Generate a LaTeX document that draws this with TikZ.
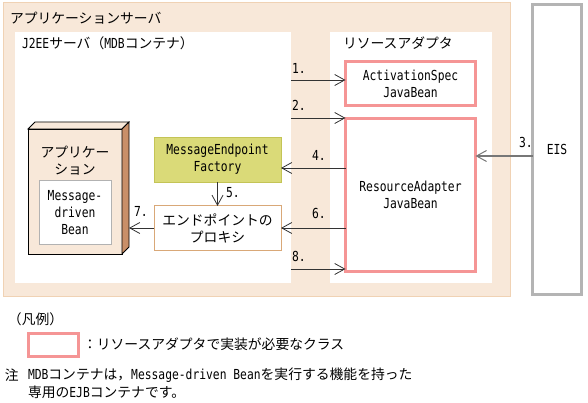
\documentclass[tikz,border=0pt]{standalone}
\usepackage{fontspec}
\setmainfont{Noto Sans CJK JP}
\newfontfamily\mn[FakeStretch=0.82]{DejaVu Sans Mono}
\usetikzlibrary{arrows.meta,calc}
\definecolor{peach}{HTML}{F8E8D9}
\definecolor{peachb}{HTML}{F0D2B4}
\definecolor{pinkb}{HTML}{F59595}
\definecolor{facf}{HTML}{DADA78}
\definecolor{facb}{HTML}{C4C456}
\definecolor{proxb}{HTML}{D9A878}
\definecolor{sidef}{HTML}{C98F68}
\definecolor{eisb}{HTML}{B4B4B4}
\definecolor{arrc}{HTML}{333333}
\definecolor{arrg}{HTML}{777777}
\begin{document}
\begin{tikzpicture}[x=1pt,y=-1pt,
  font=\fontsize{13.8}{17}\selectfont,
  every node/.style={inner sep=0pt, outer sep=0pt},
  arr/.style={draw=arrc, line width=0.8pt, -{Straight Barb[length=10pt,width=11pt,line width=0.8pt]}},
  arrgray/.style={draw=arrg, line width=1.4pt, -{Straight Barb[length=10pt,width=11pt,line width=1pt]}},
  lbl/.style={anchor=west, font=\fontsize{13.8}{17}\selectfont\mn},
  pinkbox/.style={draw=pinkb, line width=3pt, fill=white, align=center},
  whitearea/.style={fill=white},
  ttl/.style={anchor=west}]
\useasboundingbox (0,0) rectangle (588,403);
% outer application server
\node[draw=peachb, fill=peach, line width=1pt, minimum width=507pt, minimum height=293pt] (as) at (256.5,149.5) {};
\node[ttl] (astitle) at (10,18) {アプリケーションサーバ};
% white areas
\node[whitearea, minimum width=276pt, minimum height=251pt] (j2ee) at (153,157.5) {};
\node[ttl] (j2eetitle) at (22,43) {{\mn J2EE}サーバ（{\mn MDB}コンテナ）};
\node[whitearea, minimum width=162pt, minimum height=251pt] (rad) at (411,157.5) {};
\node[ttl] (radtitle) at (343,43) {リソースアダプタ};
% resource adapter boxes
\node[pinkbox, minimum width=130pt, minimum height=44pt] (act) at (410.5,83.5) {\mn ActivationSpec\\\mn JavaBean};
\node[pinkbox, minimum width=130pt, minimum height=153pt] (ra) at (410.5,195) {\mn ResourceAdapter\\\mn JavaBean};
% EIS
\node[draw=eisb, line width=3pt, fill=white, minimum width=49pt, minimum height=290pt] (eis) at (557,149.5) {\mn EIS};
% factory and proxy
\node[draw=facb, fill=facf, line width=0.8pt, minimum width=127pt, minimum height=45pt, align=center] (fac) at (217.5,159.5) {\mn MessageEndpoint\\\mn Factory};
\node[draw=proxb, fill=white, line width=1pt, minimum width=127pt, minimum height=44pt, align=center] (prox) at (217.5,228) {エンドポイントの\\プロキシ};
% application 3D box
\node[draw=black, fill=peach, line width=0.8pt, minimum width=94pt, minimum height=125pt] (app) at (75,191.5) {};
\filldraw[fill=peach, draw=black, line width=0.8pt] (app.north west) -- ++(7,-7) -- ($(app.north east)+(7,-7)$) -- (app.north east) -- cycle;
\filldraw[fill=sidef, draw=black, line width=0.8pt] (app.north east) -- ++(7,-7) -- ($(app.south east)+(7,-7)$) -- (app.south east) -- cycle;
\node[align=center] (applbl) at (75,160.5) {アプリケー\\ション};
\node[draw=black!30, fill=white, line width=1pt, minimum width=72pt, minimum height=63pt, align=center] (mdb) at (75,212.5) {\mn Message-\\\mn driven\\\mn Bean};
% arrows
\draw[arr] (j2ee.east |- 0,80) -- (act.west |- 0,80);
\node[lbl] (l1) at (292,68) {1.};
\draw[arr] (j2ee.east |- 0,118) -- (ra.west |- 0,118);
\node[lbl] (l2) at (292,105) {2.};
\draw[arrgray] (eis.west |- 0,156) -- (ra.east |- 0,156);
\node[lbl] (l3) at (519,142) {3.};
\draw[arr] (ra.west |- 0,168) -- (fac.east |- 0,168);
\node[lbl] (l4) at (312,155) {4.};
\draw[arr] (fac.south) -- (prox.north);
\node[lbl] (l5) at (226,193) {5.};
\draw[arr] (ra.west |- prox.east) -- (prox.east);
\node[lbl] (l6) at (312,213) {6.};
\draw[arr] (prox.west) -- ($(app.east |- prox.west)+(7,0)$);
\node[lbl] (l7) at (134,211) {7.};
\draw[arr] (j2ee.east |- 0,269) -- (ra.west |- 0,269);
\node[lbl] (l8) at (292,256) {8.};
% legend
\node[anchor=west] (lgtitle) at (8,319) {（凡例）};
\node[pinkbox, minimum width=50pt, minimum height=23pt] (lgbox) at (53.5,345) {};
\node[anchor=west] (lgtext) at (83,344) {：リソースアダプタで実装が必要なクラス};
\node[anchor=west] (note) at (5,375) {注};
\node[anchor=west] (note1) at (28,375) {{\mn MDB}コンテナは，{\mn Message-driven Bean}を実行する機能を持った};
\node[anchor=west] (note2) at (28,392) {専用の{\mn EJB}コンテナです。};
\end{tikzpicture}
\end{document}
